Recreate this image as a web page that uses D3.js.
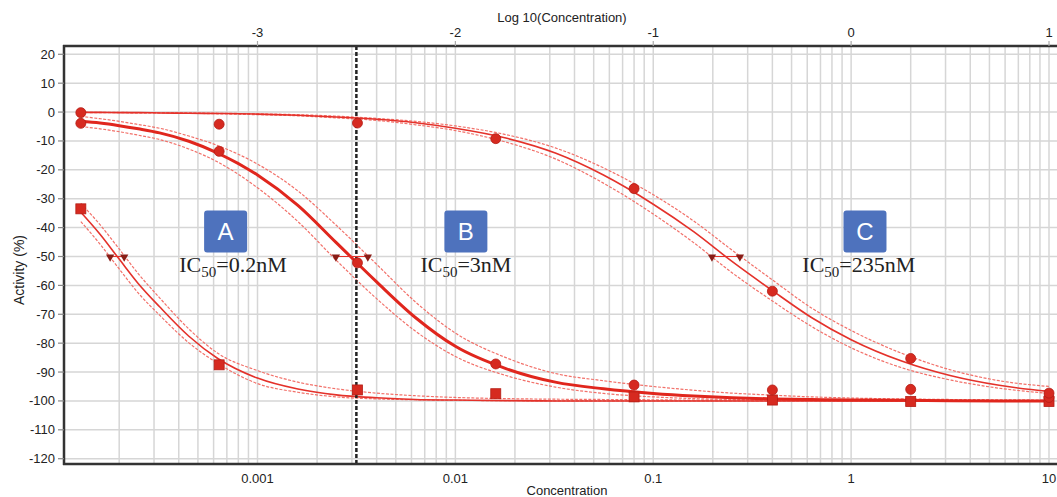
<!DOCTYPE html>
<html>
<head>
<meta charset="utf-8">
<script src="https://cdn.jsdelivr.net/npm/d3@7"></script>
<style>
  body { margin: 0; background: #fff; }
  svg { display: block; }
</style>
</head>
<body>
<div id="chart"></div>
<script>
// measured concentrations (uM) and activity (%)
var conc = [0.000128, 0.00064, 0.0032, 0.016, 0.08, 0.4, 2, 10];
var actA = [-33.5, -87.5, -96.2, -97.5, -98.6, -99.7, -100.2, -100.2];
var actB = [-3.9, -13.6, -52.2, -87.2, -94.5, -96.2, -96.0, -98.8];
var actC = [-0.2, -4.2, -3.8, -9.2, -26.5, -62.0, -85.3, -97.3];

// fitted curves, with their confidence bands
var fitConc = [0.000128, 0.00016, 0.0002, 0.00025, 0.00032, 0.00045, 0.00063, 0.001, 0.0016, 0.0025, 0.004, 0.0063, 0.01,
               0.018, 0.032, 0.056, 0.1, 0.16, 0.25, 0.4, 0.63, 1, 1.8, 3.2, 5.6, 10];
var fitA   = [-34.7, -42.3, -50.9, -59.4, -67.4, -77.6, -85.3, -92.1, -95.9, -97.9, -98.9, -99.5, -99.7,
              -99.9, -100, -100, -100, -100, -100, -100, -100, -100, -100, -100, -100, -100];
var fitAHi = [-31.6, -39.0, -47.4, -56.0, -64.3, -75.1, -83.5, -89.5, -93.5, -95.8, -97.3, -98.2, -98.8,
              -99.2, -99.4, -99.5, -99.6, -99.7, -99.7, -99.8, -99.8, -99.8, -99.9, -99.9, -99.9, -99.9];
var fitALo = [-37.9, -45.7, -54.3, -62.7, -70.3, -79.9, -87.0, -94.0, -97.0, -98.6, -99.3, -99.6, -99.8,
              -99.9, -100, -100, -100, -100, -100, -100, -100, -100, -100, -100, -100, -100];
var fitB   = [-3.2, -3.8, -4.7, -5.8, -7.2, -10.1, -14.2, -21.8, -32.3, -45.2, -58.8, -71.2, -81.1,
              -88.8, -93.5, -95.8, -97.4, -98.3, -98.9, -99.3, -99.5, -99.7, -99.8, -99.9, -100, -100];
var fitBHi = [-1.5, -2.3, -3.2, -4.3, -5.6, -8.3, -11.6, -18.0, -27.3, -39.2, -52.7, -65.8, -76.5,
              -85.0, -90.5, -93.0, -95.0, -96.3, -97.3, -98.0, -98.6, -99.0, -99.3, -99.5, -99.6, -99.7];
var fitBLo = [-5.0, -5.8, -6.8, -8.0, -9.5, -12.8, -17.3, -26.2, -37.9, -51.3, -64.6, -75.9, -84.6,
              -91.2, -95.2, -97.4, -98.6, -99.2, -99.5, -99.7, -99.8, -99.9, -100, -100, -100, -100];
var fitC   = [-0.1, -0.1, -0.2, -0.2, -0.3, -0.4, -0.5, -0.7, -1.1, -1.7, -2.5, -3.7, -5.6,
              -9.0, -14.2, -21.8, -31.9, -41.4, -51.7, -61.8, -71.1, -78.8, -86.2, -91.3, -94.6, -96.7];
var fitCHi = [-0.1, -0.1, -0.1, -0.2, -0.2, -0.3, -0.4, -0.6, -0.9, -1.4, -2.2, -3.2, -4.8,
              -7.8, -12.4, -19.3, -28.6, -37.7, -47.8, -58.1, -67.8, -75.6, -83.5, -89.3, -93.0, -95.0];
var fitCLo = [-0.1, -0.2, -0.2, -0.3, -0.3, -0.4, -0.6, -0.9, -1.3, -2.0, -2.9, -4.4, -6.4,
              -10.4, -16.2, -24.6, -35.3, -45.2, -55.6, -65.4, -74.2, -81.6, -88.5, -92.8, -95.6, -97.4];

// IC50 confidence interval (triangles at -50 %)
var icLo = [0.00018, 0.00249, 0.198];
var icHi = [0.000212, 0.00361, 0.274];
var letters = ["A", "B", "C"];
var icText = ["0.2nM", "3nM", "235nM"];
var letterConc = [0.00069, 0.0113, 1.175];
var textConc = [0.000752, 0.0113, 1.094];
var markLine = 0.00316; // 3 nM reference line

var yTicks = [20, 10, 0, -10, -20, -30, -40, -50, -60, -70, -80, -90, -100, -110, -120];
var xTicks = [0.001, 0.01, 0.1, 1, 10];
var logTicks = [-3, -2, -1, 0, 1];

var W = 1057, H = 497;
var pL = 64, pT = 46, pB = 464, pR = 1057;  // plot frame

var svg = d3.select("#chart").append("svg").attr("width", W).attr("height", H)
  .style("font-family", "'Liberation Sans', Arial, sans-serif");

var x = d3.scaleLog().domain([0.001, 10]).range([257.5, 1049]);
var xLog = d3.scaleLinear().domain([-3, 1]).range([257.5, 1049]);
var y = d3.scaleLinear().domain([-120, 20]).range([458.7, 54.3]);

var red = "#e4312a", band = "#f2716a", dot = "#d62a20";

// grid
var grid = svg.append("g").attr("stroke", "#d6d6d6").attr("stroke-width", 1.5);
var minor = [];
for (var k = -4; k <= 1; k++) for (var m = 1; m <= 9; m++) {
  var v = m * Math.pow(10, k);
  if (x(v) > pL + 1 && x(v) <= pR) minor.push(v);
}
grid.selectAll(".vx").data(minor).enter().append("line")
  .attr("x1", d => x(d)).attr("x2", d => x(d)).attr("y1", pT).attr("y2", pB);
grid.selectAll(".hy").data(yTicks).enter().append("line")
  .attr("x1", pL).attr("x2", pR).attr("y1", d => y(d)).attr("y2", d => y(d));

svg.append("defs").append("clipPath").attr("id", "clip")
  .append("rect").attr("x", pL).attr("y", pT).attr("width", pR - pL).attr("height", pB - pT);
var plot = svg.append("g").attr("clip-path", "url(#clip)");

var line = d3.line().x(d => x(d[0])).y(d => y(d[1])).curve(d3.curveMonotoneX);
function pairs(vals) { return fitConc.map((c, i) => [c, vals[i]]); }

// confidence bands
[fitAHi, fitALo, fitBHi, fitBLo, fitCHi, fitCLo].forEach(function(s) {
  plot.append("path").attr("d", line(pairs(s))).attr("fill", "none")
    .attr("stroke", band).attr("stroke-width", 1.2).attr("stroke-dasharray", "3,1.5");
});
// fits
plot.append("path").attr("d", line(pairs(fitA))).attr("fill", "none").attr("stroke", red).attr("stroke-width", 1.6);
plot.append("path").attr("d", line(pairs(fitC))).attr("fill", "none").attr("stroke", red).attr("stroke-width", 1.6);
plot.append("path").attr("d", line(pairs(fitB))).attr("fill", "none").attr("stroke", "#e0261d").attr("stroke-width", 3);

// dashed 3nM line
svg.append("line").attr("x1", x(markLine)).attr("x2", x(markLine)).attr("y1", pT).attr("y2", pB)
  .attr("stroke", "#222").attr("stroke-width", 2.5).attr("stroke-dasharray", "4,2");

// IC50 interval bars + triangles
icLo.forEach(function(lo, i) {
  var hi = icHi[i];
  svg.append("line").attr("x1", x(lo)).attr("x2", x(hi)).attr("y1", y(-50)).attr("y2", y(-50))
    .attr("stroke", red).attr("stroke-width", 1);
  [lo, hi].forEach(function(c) {
    svg.append("path").attr("d", d3.symbol(d3.symbolTriangle, 30)())
      .attr("transform", "translate(" + x(c) + "," + (y(-50) + 0.5) + ") rotate(180)")
      .attr("fill", "#8a1d16");
  });
});

// data points
svg.selectAll(".sq").data(conc).enter().append("rect")
  .attr("x", d => x(d) - 5).attr("y", (d, i) => y(actA[i]) - 5).attr("width", 10).attr("height", 10)
  .attr("fill", dot).attr("stroke", "#b41d15").attr("stroke-width", 0.8);
[actB, actC].forEach(function(s) {
  svg.selectAll(null).data(conc).enter().append("circle")
    .attr("cx", d => x(d)).attr("cy", (d, i) => y(s[i])).attr("r", 5)
    .attr("fill", dot).attr("stroke", "#b41d15").attr("stroke-width", 0.8);
});

// letter boxes and IC50 text
letters.forEach(function(L, i) {
  var cx = x(letterConc[i]);
  svg.append("rect").attr("x", cx - 21.5).attr("y", 210.5).attr("width", 43).attr("height", 42)
    .attr("rx", 3).attr("fill", "#4e72bd");
  svg.append("text").attr("x", cx).attr("y", 240).attr("text-anchor", "middle")
    .attr("fill", "#fff").attr("font-size", 24).text(L);
  var t = svg.append("text").attr("x", x(textConc[i])).attr("y", 272).attr("text-anchor", "middle")
    .attr("font-family", "'Liberation Serif', 'Times New Roman', serif").attr("font-size", 22).attr("fill", "#222");
  t.append("tspan").text("IC");
  t.append("tspan").attr("font-size", 15).attr("dy", 5).text("50");
  t.append("tspan").attr("dy", -5).text("=" + icText[i]);
});

// frame
var frame = svg.append("g").attr("stroke", "#333").attr("stroke-width", 2.5);
frame.append("line").attr("x1", pL).attr("x2", pL).attr("y1", pT - 1).attr("y2", pB + 1);
frame.append("line").attr("x1", pL - 1).attr("x2", pR).attr("y1", pT).attr("y2", pT);
frame.append("line").attr("x1", pL - 1).attr("x2", pR).attr("y1", pB).attr("y2", pB);

// y ticks
var yAx = svg.append("g");
yAx.selectAll("line").data(yTicks).enter().append("line")
  .attr("x1", 58).attr("x2", pL).attr("y1", d => y(d)).attr("y2", d => y(d))
  .attr("stroke", "#888").attr("stroke-width", 1.2);
yAx.selectAll("text").data(yTicks).enter().append("text")
  .attr("x", 55).attr("y", d => y(d) + 4.5).attr("text-anchor", "end").attr("font-size", 13).attr("fill", "#222")
  .text(d => d);

// top log axis
var tAx = svg.append("g");
tAx.selectAll("line").data(logTicks).enter().append("line")
  .attr("x1", d => xLog(d)).attr("x2", d => xLog(d)).attr("y1", 41).attr("y2", pT)
  .attr("stroke", "#aaa").attr("stroke-width", 1.2);
tAx.selectAll("text").data(logTicks).enter().append("text")
  .attr("x", d => xLog(d)).attr("y", 37).attr("text-anchor", "middle").attr("font-size", 13).attr("fill", "#222")
  .text(d => d);

// bottom concentration axis
svg.selectAll(".bt").data(xTicks).enter().append("text")
  .attr("x", d => x(d)).attr("y", 483).attr("text-anchor", "middle").attr("font-size", 13).attr("fill", "#222")
  .text(d => d);

svg.append("text").attr("x", 562).attr("y", 22).attr("text-anchor", "middle").attr("font-size", 13)
  .attr("fill", "#222").text("Log 10(Concentration)");
svg.append("text").attr("x", 567).attr("y", 495).attr("text-anchor", "middle").attr("font-size", 13)
  .attr("fill", "#222").text("Concentration");
svg.append("text").attr("transform", "translate(24,270) rotate(-90)").attr("text-anchor", "middle")
  .attr("font-size", 14).attr("fill", "#222").text("Activity (%)");
</script>
</body>
</html>
